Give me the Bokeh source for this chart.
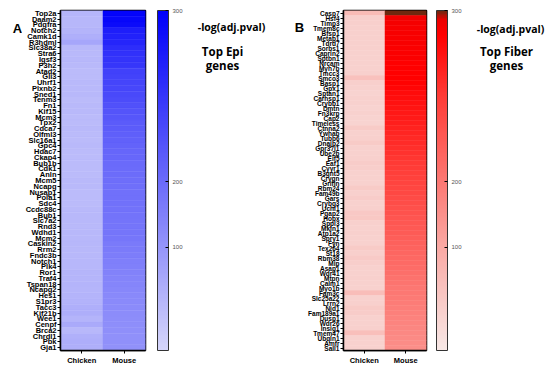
import numpy as np
from bokeh.plotting import figure
from bokeh.models import ColumnDataSource, ColorBar, LinearColorMapper, FixedTicker, Label, FactorRange, Range1d
from bokeh.layouts import row
from bokeh.embed import file_html
from bokeh.resources import INLINE

species = ["Chicken", "Mouse"]

genes_a = ["Top2a", "Daam2", "Pdgfra", "Notch2", "Camk1d", "R3hdml", "Slc38a2", "Stra6", "Igsf3", "P3h2",
           "Atad2", "Gli3", "Uhrf1", "Plxnb2", "Sned1", "Tenm3", "Fn1", "Kif15", "Mcm3", "Tpx2",
           "Cdca7", "Olfml3", "Slc16a1", "Gpc4", "Hdac7", "Ckap4", "Bub1b", "Cdk1", "Anln", "Mcm5",
           "Ncapg", "Nusap1", "Pola1", "Sdc4", "Ccdc88c", "Bub1", "Slc7a2", "Rnd3", "Wdhd1", "Mcm2",
           "Caskin2", "Rrm2", "Fndc3b", "Notch1", "Plk4", "Ror1", "Traf4", "Tspan18", "Ncapg2", "Hes1",
           "S1pr3", "Tacc3", "Kif21b", "Wee1", "Cenpf", "Brca2", "Chrdl1", "Pbk", "Gja1"]
chicken_a = [50, 48, 48, 52, 60, 74, 46, 44, 46, 44,
             42, 42, 44, 44, 46, 42, 44, 44, 42, 42,
             44, 42, 42, 44, 42, 42, 42, 42, 42, 44,
             44, 42, 42, 42, 44, 46, 46, 44, 46, 46,
             48, 46, 46, 48, 48, 50, 50, 52, 50, 52,
             54, 60, 62, 52, 68, 46, 58, 62, 60]
mouse_a = [296, 294, 290, 272, 268, 266, 258, 255, 252, 250,
           240, 238, 236, 234, 232, 230, 225, 222, 220, 216,
           214, 212, 210, 208, 206, 204, 202, 200, 198, 195,
           192, 190, 188, 186, 184, 182, 180, 178, 176, 174,
           166, 162, 158, 154, 150, 146, 142, 138, 134, 130,
           127, 124, 122, 120, 118, 116, 114, 112, 110]

genes_b = ["Casp7", "Hsf4", "Timp3", "Tmem8c", "Bfsp1", "Metap1", "Tdrd7", "Sorbs1", "Caprin2", "Sptbn1",
           "Nrcam", "Myh7b", "Tmcc3", "Smco3", "Basp1", "Gpx1", "Sptan1", "Carhsp1", "Crybb1", "Dmtn",
           "Fn3krp", "Cap2", "Timeless", "Ctnna2", "Ywhab", "Tubb6", "Dnajb2", "Gpr37l1", "Ube2b", "Eif5",
           "Eaf1", "Cyyr1", "B3gnt5", "Crygn", "Grifin", "Rbm24", "Fam49b", "Gars", "Crybg3", "Uchl1",
           "Pgap2", "Hopx", "Sppl3", "Mkln1", "Atp1a2", "Spry1", "Fyn", "Tex264", "St18", "Rbm38",
           "Mip", "Asap1", "Wdr41", "Mtpn", "Calm1", "Myo1b", "Fam3c", "Slc25a22", "Lrrn2", "Nid1",
           "Fam189a1", "Dusp1", "Wdr26", "Insig1", "Tmem47", "Ubqln1", "Amfr", "Sall1"]
chicken_b = [72, 40, 40, 38, 38, 38, 38, 38, 36, 36,
             36, 36, 38, 62, 40, 36, 34, 36, 36, 34,
             36, 34, 34, 46, 36, 38, 46, 36, 36, 38,
             44, 42, 36, 36, 36, 46, 38, 44, 36, 38,
             50, 52, 38, 36, 38, 36, 36, 46, 40, 48,
             42, 36, 36, 38, 36, 36, 68, 36, 38, 46,
             44, 36, 36, 38, 66, 36, 36, 36]
mouse_b = [300, 292, 291, 290, 290, 289, 289, 288, 288, 288,
           287, 287, 286, 286, 285, 283, 280, 278, 276, 274,
           272, 270, 268, 266, 264, 262, 260, 258, 256, 254,
           252, 250, 248, 246, 244, 242, 240, 238, 236, 234,
           232, 230, 228, 226, 224, 222, 220, 218, 216, 214,
           212, 210, 208, 206, 204, 202, 200, 196, 192, 188,
           184, 180, 176, 172, 168, 164, 160, 156]

cbar_ticks = [100, 200, 300]
# non-linear colour scale of the original: value stops and their place on the bar
scale_values = [0, 100, 200, 300]
scale_pos = [0.0, 0.303, 0.497, 1.0]

stops_a = [(0.0, (214, 214, 250)), (1.0, (0, 0, 250))]
stops_b = [(0.0, (247, 232, 230)), (0.30, (250, 170, 165)), (0.50, (252, 120, 115)),
           (0.75, (255, 60, 55)), (0.93, (255, 0, 0)), (0.975, (235, 0, 0)), (1.0, (110, 40, 15))]

N = 256
H = 368          # figure height
TOP = 10         # frame top
BOTTOM = 18      # space below frame


def make_palette(stops):
    us = [s[0] for s in stops]
    cols = np.array([s[1] for s in stops], float)
    t = np.linspace(0, 1, N)
    rgb = np.stack([np.interp(t, us, cols[:, k]) for k in range(3)], axis=1)
    return ["#%02x%02x%02x" % tuple(int(round(c)) for c in r) for r in rgb]


def to_u(v):
    return np.interp(v, scale_values, scale_pos)


def blank(W):
    """A figure with no axes whose frame covers it all; y counts pixels from the top."""
    p = figure(width=W, height=H, x_range=Range1d(0, W), y_range=Range1d(H, 0),
               output_backend="svg", toolbar_location=None,
               x_axis_location=None, y_axis_location=None,
               min_border=0, min_border_left=0, min_border_right=0, min_border_top=0, min_border_bottom=0)
    p.outline_line_color = None
    p.xgrid.visible = False
    p.ygrid.visible = False
    return p


def label(p, x, y, text, font, size, style="bold"):
    p.add_layout(Label(x=x, y=y, text=text, text_font=font, text_font_style=style, text_font_size=size,
                       text_align="center", text_baseline="middle", text_color="black"))


def heat(genes, chick, mouse, pal, W, left, font_size):
    cidx = lambda v: pal[int(round(float(to_u(v)) * (N - 1)))]
    src = ColumnDataSource(dict(
        species=["Chicken"] * len(genes) + ["Mouse"] * len(genes),
        gene=list(genes) + list(genes),
        color=[cidx(v) for v in chick] + [cidx(v) for v in mouse]))
    p = figure(width=W, height=H, x_range=FactorRange(*species), y_range=FactorRange(*genes[::-1]),
               output_backend="svg", toolbar_location=None,
               min_border_left=left, min_border_right=2, min_border_top=TOP, min_border_bottom=BOTTOM)
    p.rect(x="species", y="gene", width=1, height=1, source=src,
           fill_color="color", line_color="color", line_width=0.5)
    p.xgrid.visible = False
    p.ygrid.visible = False
    p.outline_line_color = "black"
    p.outline_line_width = 1.5
    for ax in (p.xaxis[0], p.yaxis[0]):
        ax.axis_line_color = "black"
        ax.axis_line_width = 1.5
        ax.major_tick_line_color = "black"
        ax.major_tick_line_width = 1
        ax.major_tick_in = 0
        ax.major_tick_out = 3
        ax.minor_tick_line_color = None
        ax.major_label_text_font = "Liberation Sans"
        ax.major_label_text_font_style = "bold"
        ax.major_label_text_color = "black"
    p.yaxis.major_label_text_font_size = font_size
    p.yaxis.major_label_standoff = 1
    p.xaxis.major_label_text_font_size = "7.5px"
    p.xaxis.major_label_standoff = 2
    return p


def cbar(pal, gap, W):
    """Empty spacer frame with the colour bar in its right-hand panel."""
    p = figure(width=W, height=H, output_backend="svg", toolbar_location=None,
               x_axis_location=None, y_axis_location=None,
               min_border_left=0, min_border_right=W - gap, min_border_top=TOP, min_border_bottom=BOTTOM)
    p.outline_line_color = None
    p.xgrid.visible = False
    p.ygrid.visible = False
    tick_u = [round(float(to_u(t)), 4) for t in cbar_ticks]
    cb = ColorBar(color_mapper=LinearColorMapper(palette=pal, low=0, high=1),
                  ticker=FixedTicker(ticks=tick_u),
                  major_label_overrides={u: str(t) for u, t in zip(tick_u, cbar_ticks)},
                  width=11, height="auto", padding=0, margin=0,
                  bar_line_color="#333333", bar_line_width=1,
                  major_tick_line_color="black", major_tick_in=3, major_tick_out=0,
                  minor_tick_line_color=None, label_standoff=4,
                  major_label_text_font="Liberation Sans", major_label_text_font_size="6px",
                  major_label_text_color="#555555")
    p.add_layout(cb, "right")
    return p


pal_a = make_palette(stops_a)
pal_b = make_palette(stops_b)

f1 = blank(22)
label(f1, 17, 19, "A", "Liberation Sans", "13px")

f2 = heat(genes_a, chicken_a, mouse_a, pal_a, 125, 35, "7.5px")
f3 = cbar(pal_a, 10, 40)

f4 = blank(118)
label(f4, 44, 18, "-log(adj.pval)", "Open Sans", "10.5px")
label(f4, 35, 44, "Top Epi", "Open Sans", "11.5px")
label(f4, 35, 59, "genes", "Open Sans", "11.5px")
label(f4, 112, 18, "B", "Liberation Sans", "13px")

f5 = heat(genes_b, chicken_b, mouse_b, pal_b, 123, 35, "6.5px")
f6 = cbar(pal_b, 8, 40)

f7 = blank(80)
label(f7, 42, 20, "-log(adj.pval)", "Open Sans", "10.5px")
label(f7, 38, 44, "Top Fiber", "Open Sans", "11.5px")
label(f7, 38, 59, "genes", "Open Sans", "11.5px")

layout = row(f1, f2, f3, f4, f5, f6, f7)
open("out.html", "w").write(file_html(layout, INLINE))
